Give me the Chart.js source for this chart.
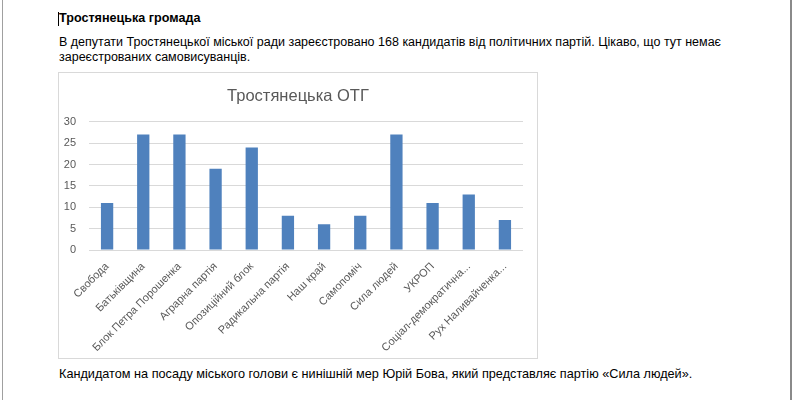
<!DOCTYPE html>
<html>
<head>
<meta charset="utf-8">
<script src="https://cdn.jsdelivr.net/npm/chart.js@4"></script>
<style>
  html, body { margin:0; padding:0; background:#fff; width:794px; height:400px; overflow:hidden; }
  body { position:relative; font-family:"Liberation Sans", Arial, sans-serif; color:#000; }
  .bl { position:absolute; left:2px; top:0; width:1px; height:400px; background:#a0a0a0; }
  .br { position:absolute; left:790px; top:0; width:2px; height:400px; background:#8a8a8a; }
  .cursor { position:absolute; left:58px; top:12px; width:1px; height:14px; background:#000; }
  .t { position:absolute; left:59px; font-size:12.5px; white-space:nowrap; line-height:15px; }
  #box { position:absolute; left:58px; top:72px; width:480px; height:287px; border:1px solid #d9d9d9; box-sizing:border-box; }
  #box canvas { display:block; }
</style>
</head>
<body>
<div class="bl"></div><div class="br"></div>
<div class="cursor"></div>
<div class="t" style="top:11px;font-weight:bold;font-size:12.6px;">Тростянецька громада</div>
<div class="t" style="top:35px;">В депутати Тростянецької міської ради зареєстровано 168 кандидатів від політичних партій. Цікаво, що тут немає</div>
<div class="t" style="top:50px;">зареєстрованих самовисуванців.</div>
<div id="box"><canvas id="c" width="478" height="285"></canvas></div>
<div class="t" style="top:367px;font-size:12.7px;">Кандидатом на посаду міського голови є нинішній мер Юрій Бова, який представляє партію «Сила людей».</div>
<script>
const chartTitle = "Тростянецька ОТГ";
const categories = ["Свобода","Батьківщина","Блок Петра Порошенка","Аграрна партія","Опозиційний блок","Радикальна партія","Наш край","Самопоміч","Сила людей","УКРОП","Соціал-демократична...","Рух Наливайченка..."];
const candidates = [11,27,27,19,24,8,6,8,27,11,13,7];
const yTicks = [0,5,10,15,20,25,30];

new Chart(document.getElementById('c'), {
  type: 'bar',
  data: {
    labels: categories,
    datasets: [{ data: candidates, backgroundColor: '#4f81bd', categoryPercentage: 1, barPercentage: 0.34 }]
  },
  options: {
    responsive: false,
    animation: false,
    devicePixelRatio: 1,
    layout: { padding: 0 },
    plugins: {
      legend: { display: false },
      tooltip: { enabled: false },
      title: { display: true, text: chartTitle, color: '#595959',
        font: { family: "'Liberation Sans', Arial, sans-serif", size: 16.5, weight: 'normal' },
        padding: { top: 14, bottom: 15 } }
    },
    scales: {
      x: {
        grid: { display: false },
        border: { display: false },
        ticks: { color: '#595959', font: { family: "'Liberation Sans', Arial, sans-serif", size: 11 },
          minRotation: 45, maxRotation: 45, autoSkip: false, padding: 2 },
        afterFit: (s) => { s.height = 108; }
      },
      y: {
        min: 0, max: 30,
        afterBuildTicks: (s) => { s.ticks = yTicks.map(v => ({ value: v })); },
        grid: { color: '#d9d9d9', drawTicks: false },
        border: { display: false },
        ticks: { color: '#595959', font: { family: "'Liberation Sans', Arial, sans-serif", size: 11 }, padding: 13 },
        afterFit: (s) => { s.width = 30; }
      },
      yRight: {
        position: 'right',
        min: 0, max: 30,
        grid: { display: false },
        border: { display: false },
        ticks: { display: false },
        afterFit: (s) => { s.width = 14; }
      }
    }
  }
});
</script>
</body>
</html>
